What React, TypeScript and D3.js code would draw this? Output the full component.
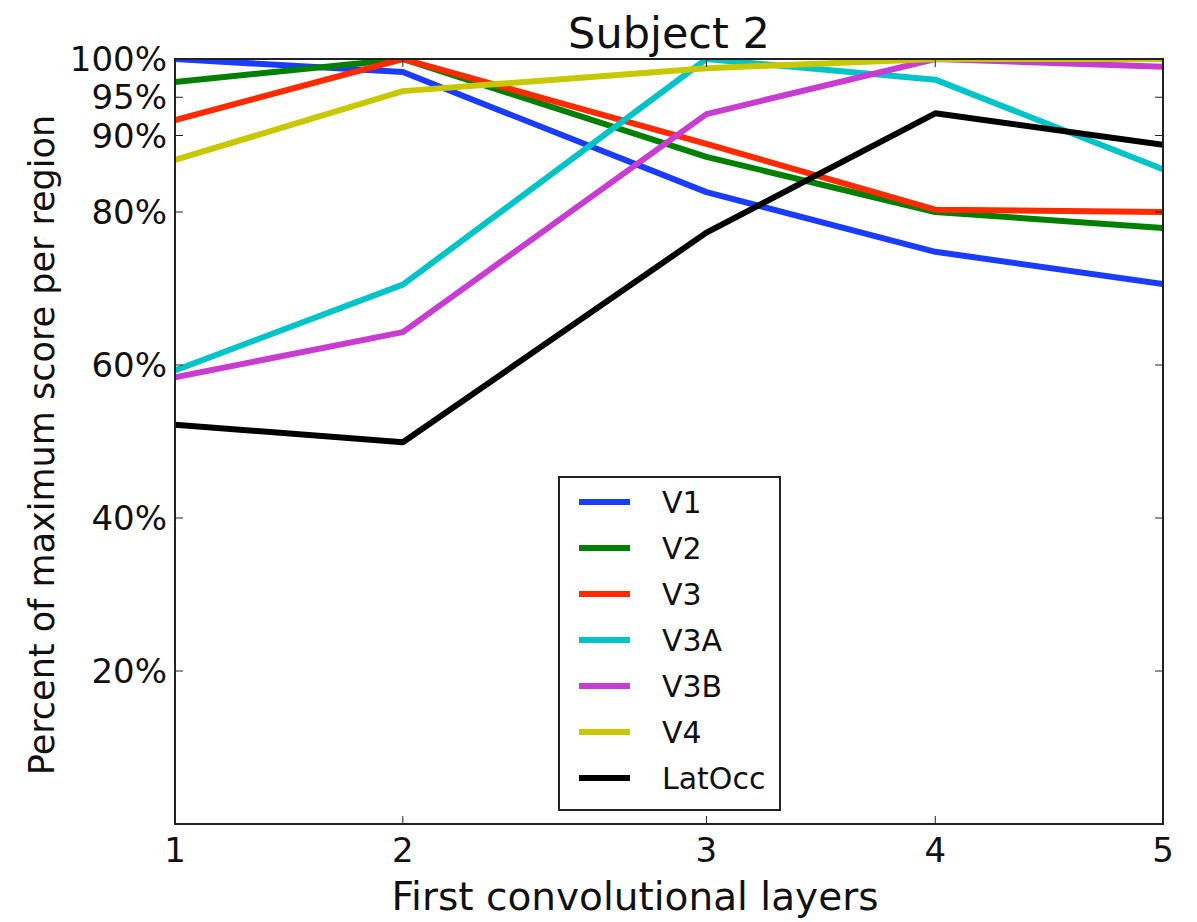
import React, { useEffect, useRef } from 'react';
import * as d3 from 'd3';

const layers = [1, 2, 3, 4, 5];
const seriesNames = ['V1', 'V2', 'V3', 'V3A', 'V3B', 'V4', 'LatOcc'];
const seriesColors = ['#1a3cff', '#008000', '#ff2a00', '#00c4c8', '#c83cd2', '#c8c800', '#000000'];
const v1 = [100, 98.3, 82.6, 74.8, 70.6];
const v2 = [97.0, 100, 87.2, 80.0, 77.9];
const v3 = [92.0, 100, 88.9, 80.3, 80.0];
const v3a = [59.3, 70.5, 100, 97.3, 85.6];
const v3b = [58.4, 64.3, 92.8, 100, 99.0];
const v4 = [86.8, 95.8, 98.8, 100, 100];
const latOcc = [52.2, 49.9, 77.3, 92.9, 88.8];
const yTicks = [20, 40, 60, 80, 90, 95, 100];

const W = 1197;
const H = 922;
const margin = { top: 59, right: 34, bottom: 98, left: 175 };

const App = () => {
  const ref = useRef<SVGSVGElement>(null);

  useEffect(() => {
    const svg = d3.select(ref.current);
    svg.selectAll('*').remove();

    const innerW = W - margin.left - margin.right;
    const innerH = H - margin.top - margin.bottom;
    const font = 'DejaVu Sans, sans-serif';

    // layers are not evenly spaced in the original figure
    const x = d3.scaleLinear()
      .domain(layers)
      .range([0, 0.2306, 0.5379, 0.7695, 1].map((f) => f * innerW));
    const y = d3.scaleLinear().domain([0, 100]).range([innerH, 0]);

    const g = svg.append('g').attr('transform', `translate(${margin.left},${margin.top})`);

    g.append('clipPath').attr('id', 'plot-clip')
      .append('rect').attr('width', innerW).attr('height', innerH);

    const allSeries = [v1, v2, v3, v3a, v3b, v4, latOcc];
    const line = d3.line<number>()
      .x((_, i) => x(layers[i]))
      .y((d) => y(d));

    g.append('g').attr('clip-path', 'url(#plot-clip)')
      .selectAll('path')
      .data(allSeries)
      .enter()
      .append('path')
      .attr('d', (d) => line(d))
      .attr('fill', 'none')
      .attr('stroke', (_, i) => seriesColors[i])
      .attr('stroke-width', 6)
      .attr('stroke-linejoin', 'round');

    // frame
    g.append('rect')
      .attr('width', innerW).attr('height', innerH)
      .attr('fill', 'none').attr('stroke', '#222').attr('stroke-width', 2);

    // ticks (inward, all four sides)
    const tickLen = 8;
    layers.forEach((l) => {
      g.append('line').attr('x1', x(l)).attr('x2', x(l)).attr('y1', innerH).attr('y2', innerH - tickLen)
        .attr('stroke', '#222').attr('stroke-width', 1);
      g.append('line').attr('x1', x(l)).attr('x2', x(l)).attr('y1', 0).attr('y2', tickLen)
        .attr('stroke', '#222').attr('stroke-width', 1);
      g.append('text').attr('x', x(l)).attr('y', innerH + 38)
        .attr('text-anchor', 'middle').attr('font-family', font).attr('font-size', 34)
        .attr('fill', '#111').text(l);
    });
    yTicks.forEach((t) => {
      g.append('line').attr('x1', 0).attr('x2', tickLen).attr('y1', y(t)).attr('y2', y(t))
        .attr('stroke', '#222').attr('stroke-width', 1);
      g.append('line').attr('x1', innerW).attr('x2', innerW - tickLen).attr('y1', y(t)).attr('y2', y(t))
        .attr('stroke', '#222').attr('stroke-width', 1);
      g.append('text').attr('x', -8).attr('y', y(t)).attr('dy', '0.36em')
        .attr('text-anchor', 'end').attr('font-family', font).attr('font-size', 34)
        .attr('fill', '#111').text(`${t}%`);
    });

    // title and axis labels
    svg.append('text').attr('x', margin.left + innerW / 2).attr('y', 48)
      .attr('text-anchor', 'middle').attr('font-family', font).attr('font-size', 43)
      .attr('fill', '#111').text('Subject 2');
    svg.append('text').attr('x', 635).attr('y', 910)
      .attr('text-anchor', 'middle').attr('font-family', font).attr('font-size', 39)
      .attr('fill', '#111').text('First convolutional layers');
    svg.append('text')
      .attr('transform', `translate(54,445) rotate(-90)`)
      .attr('text-anchor', 'middle').attr('font-family', font).attr('font-size', 35)
      .attr('fill', '#111').text('Percent of maximum score per region');

    // legend
    const lg = svg.append('g').attr('transform', 'translate(559,477)');
    lg.append('rect').attr('width', 221).attr('height', 333)
      .attr('fill', '#fff').attr('stroke', '#222').attr('stroke-width', 2);
    seriesNames.forEach((name, i) => {
      const ry = 25 + i * 46;
      lg.append('line').attr('x1', 20).attr('x2', 71).attr('y1', ry).attr('y2', ry)
        .attr('stroke', seriesColors[i]).attr('stroke-width', 6);
      lg.append('text').attr('x', 103).attr('y', ry).attr('dy', '0.36em')
        .attr('font-family', font).attr('font-size', 30).attr('fill', '#111').text(name);
    });
  }, []);

  return (
    <svg ref={ref} width={W} height={H} style={{ display: 'block', position: 'absolute', left: 0, top: 0, background: '#fff' }} />
  );
};

export default App;
